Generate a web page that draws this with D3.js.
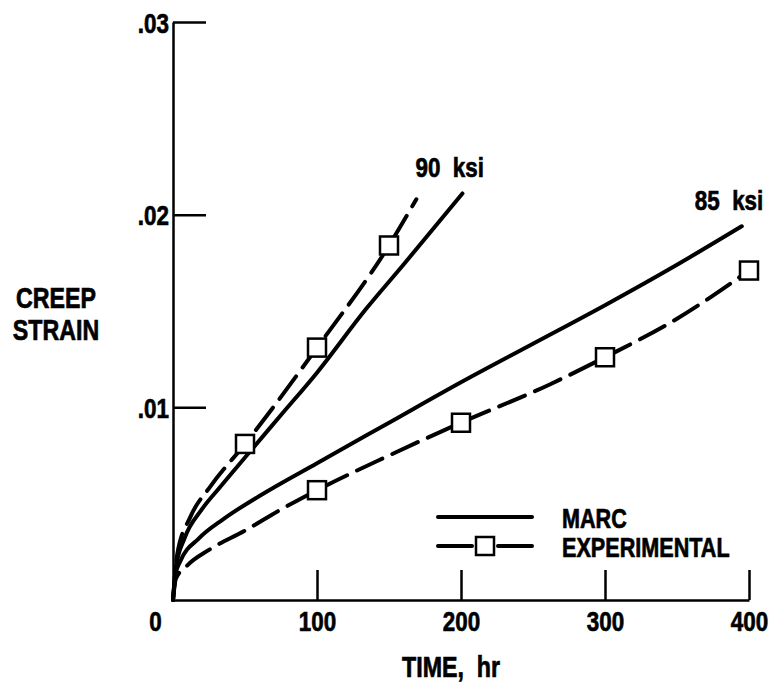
<!DOCTYPE html>
<html lang="en">
<head>
  <meta charset="UTF-8">
  <title>Creep strain vs time</title>
  <style>
    body { margin: 0; background: #fff; }
    svg { display: block; background: #fff; }
    text {
      font-family: "Liberation Sans", Arial, sans-serif;
      font-weight: bold;
      fill: #000;
      stroke: #000;
      stroke-width: 0.7px;
    }
  </style>
  <script src="https://d3js.org/d3.v7.min.js"></script>
</head>
<body>
  <svg width="781" height="683"></svg>

  <script>
    // valori (ore, deformazione)
    var marc90 = [[0, 0], [2, 0.0017], [8, 0.0032], [20, 0.0047], [32, 0.0058], [50, 0.0074],
                  [75, 0.0096], [100, 0.0118], [134, 0.0151], [160, 0.0174], [201, 0.0211]];
    var exp90 = [[0, 0], [3, 0.0024], [12, 0.0043], [26, 0.0059], [50, 0.0081],
                 [100, 0.0131], [150, 0.0184], [169, 0.0208]];
    var marc85 = [[0, 0], [2, 0.0014], [5, 0.0020], [18, 0.0032], [35, 0.0042], [60, 0.0054],
                  [100, 0.0071], [150, 0.0092], [200, 0.0113], [250, 0.0133], [300, 0.0153],
                  [350, 0.0174], [395, 0.0194]];
    var exp85 = [[0, 0], [2, 0.0011], [10, 0.0018], [25, 0.0026], [50, 0.0036], [75, 0.0047],
                 [100, 0.0057], [150, 0.0075], [200, 0.0092], [262, 0.0112], [300, 0.0126],
                 [350, 0.0146], [400, 0.0171]];
    var exp90Points = [50, 100, 150];
    var exp85Points = [100, 200, 300, 400];

    var xTicks = [0, 100, 200, 300, 400];
    var yTicks = [0.01, 0.02, 0.03];
    var yLabel = ["CREEP", "STRAIN"];
    var xLabel = "TIME, hr";
    var curveLabels = [["90 ksi", 201, 0.0211], ["85 ksi", 395, 0.0194]];
    var legendNames = ["MARC", "EXPERIMENTAL"];

    var svg = d3.select("svg");

    var x = d3.scaleLinear().domain([0, 400]).range([173, 749]);
    var y = d3.scaleLinear().domain([0, 0.03]).range([600, 22]);

    // stringe il testo come un carattere condensato
    function narrow(sel) {
      sel.each(function() {
        var len = this.getComputedTextLength();
        d3.select(this).attr("textLength", len * 0.8).attr("lengthAdjust", "spacingAndGlyphs");
      });
    }

    // assi
    var yAxis = d3.axisLeft(y)
      .tickValues(yTicks)
      .tickSizeInner(-33)
      .tickSizeOuter(0)
      .tickPadding(4)
      .tickFormat(function(d) { return d.toFixed(2).replace(/^0/, ""); });

    var xAxis = d3.axisBottom(x)
      .tickValues(xTicks)
      .tickSizeInner(-30)
      .tickSizeOuter(0)
      .tickPadding(11)
      .tickFormat(d3.format("d"));

    var gy = svg.append("g").attr("transform", "translate(" + x(0) + ",0)").call(yAxis);
    var gx = svg.append("g").attr("transform", "translate(0," + y(0) + ")").call(xAxis);

    [gx, gy].forEach(function(g) {
      g.select(".domain").attr("stroke", "#000").attr("stroke-width", 2.5);
      g.selectAll(".tick line").attr("stroke", "#000").attr("stroke-width", 2.5);
      g.selectAll(".tick text").style("font-size", "28px").attr("font-family", null);
    });
    gy.selectAll(".tick text").attr("dy", "0.36em");
    gx.selectAll(".tick text").attr("dy", "0.72em");
    // lo zero sta a sinistra dell'angolo
    gx.selectAll(".tick").filter(function(d) { return d === 0; })
      .each(function() {
        d3.select(this).select("line").remove();
        d3.select(this).select("text").attr("x", -18);
      });
    narrow(gx.selectAll(".tick text"));
    narrow(gy.selectAll(".tick text"));

    // titoli
    var yl = svg.append("text")
      .attr("text-anchor", "middle")
      .style("font-size", "29px");
    yl.selectAll("tspan").data(yLabel).enter().append("tspan")
      .attr("x", 56).attr("y", function(d, i) { return 308 + i * 32; })
      .text(function(d) { return d; });
    narrow(yl.selectAll("tspan"));

    svg.append("text")
      .attr("x", 451).attr("y", 677)
      .attr("text-anchor", "middle")
      .style("font-size", "29px")
      .attr("xml:space", "preserve")
      .text(xLabel.replace(" ", "  "))
      .call(narrow);

    // curve
    var line = d3.line()
      .x(function(d) { return x(d[0]); })
      .y(function(d) { return y(d[1]); })
      .curve(d3.curveMonotoneX);

    function drawCurve(data, dashed) {
      svg.append("path")
        .datum(data)
        .attr("d", line)
        .attr("fill", "none")
        .attr("stroke", "#000")
        .attr("stroke-width", 4)
        .attr("stroke-linecap", "round")
        .attr("stroke-dasharray", dashed ? "28,11" : null);
    }

    drawCurve(marc90, false);
    drawCurve(marc85, false);
    drawCurve(exp90, true);
    drawCurve(exp85, true);

    function drawSquares(data, hours) {
      var pts = data.filter(function(d) { return hours.indexOf(d[0]) >= 0; });
      svg.selectAll(null)
        .data(pts)
        .enter().append("rect")
        .attr("x", function(d) { return x(d[0]) - 9; })
        .attr("y", function(d) { return y(d[1]) - 9; })
        .attr("width", 18)
        .attr("height", 18)
        .attr("fill", "#fff")
        .attr("stroke", "#000")
        .attr("stroke-width", 2.5);
    }

    drawSquares(exp90, exp90Points);
    drawSquares(exp85, exp85Points);

    // etichette delle curve
    svg.selectAll(".clabel")
      .data(curveLabels)
      .enter().append("text")
      .attr("class", "clabel")
      .attr("x", function(d) { return x(d[1]) - 47; })
      .attr("y", function(d) { return y(d[2]) - 16; })
      .style("font-size", "28px")
      .attr("xml:space", "preserve")
      .text(function(d) { return d[0].replace(" ", "  "); })
      .call(narrow);

    // legenda
    var lg = svg.append("g").attr("transform", "translate(438,517)");
    lg.append("line")
      .attr("x1", 0).attr("x2", 94).attr("y1", 0).attr("y2", 0)
      .attr("stroke", "#000").attr("stroke-width", 4).attr("stroke-linecap", "round");
    lg.append("line")
      .attr("x1", 0).attr("x2", 34).attr("y1", 29).attr("y2", 29)
      .attr("stroke", "#000").attr("stroke-width", 4).attr("stroke-linecap", "round");
    lg.append("line")
      .attr("x1", 60).attr("x2", 94).attr("y1", 29).attr("y2", 29)
      .attr("stroke", "#000").attr("stroke-width", 4).attr("stroke-linecap", "round");
    lg.append("rect")
      .attr("x", 38).attr("y", 20).attr("width", 18).attr("height", 18)
      .attr("fill", "#fff").attr("stroke", "#000").attr("stroke-width", 2.5);
    lg.selectAll(".lname")
      .data(legendNames)
      .enter().append("text")
      .attr("class", "lname")
      .attr("x", 124)
      .attr("y", function(d, i) { return 11 + i * 29; })
      .style("font-size", "27px")
      .text(function(d) { return d; })
      .call(narrow);
  </script>
</body>
</html>
